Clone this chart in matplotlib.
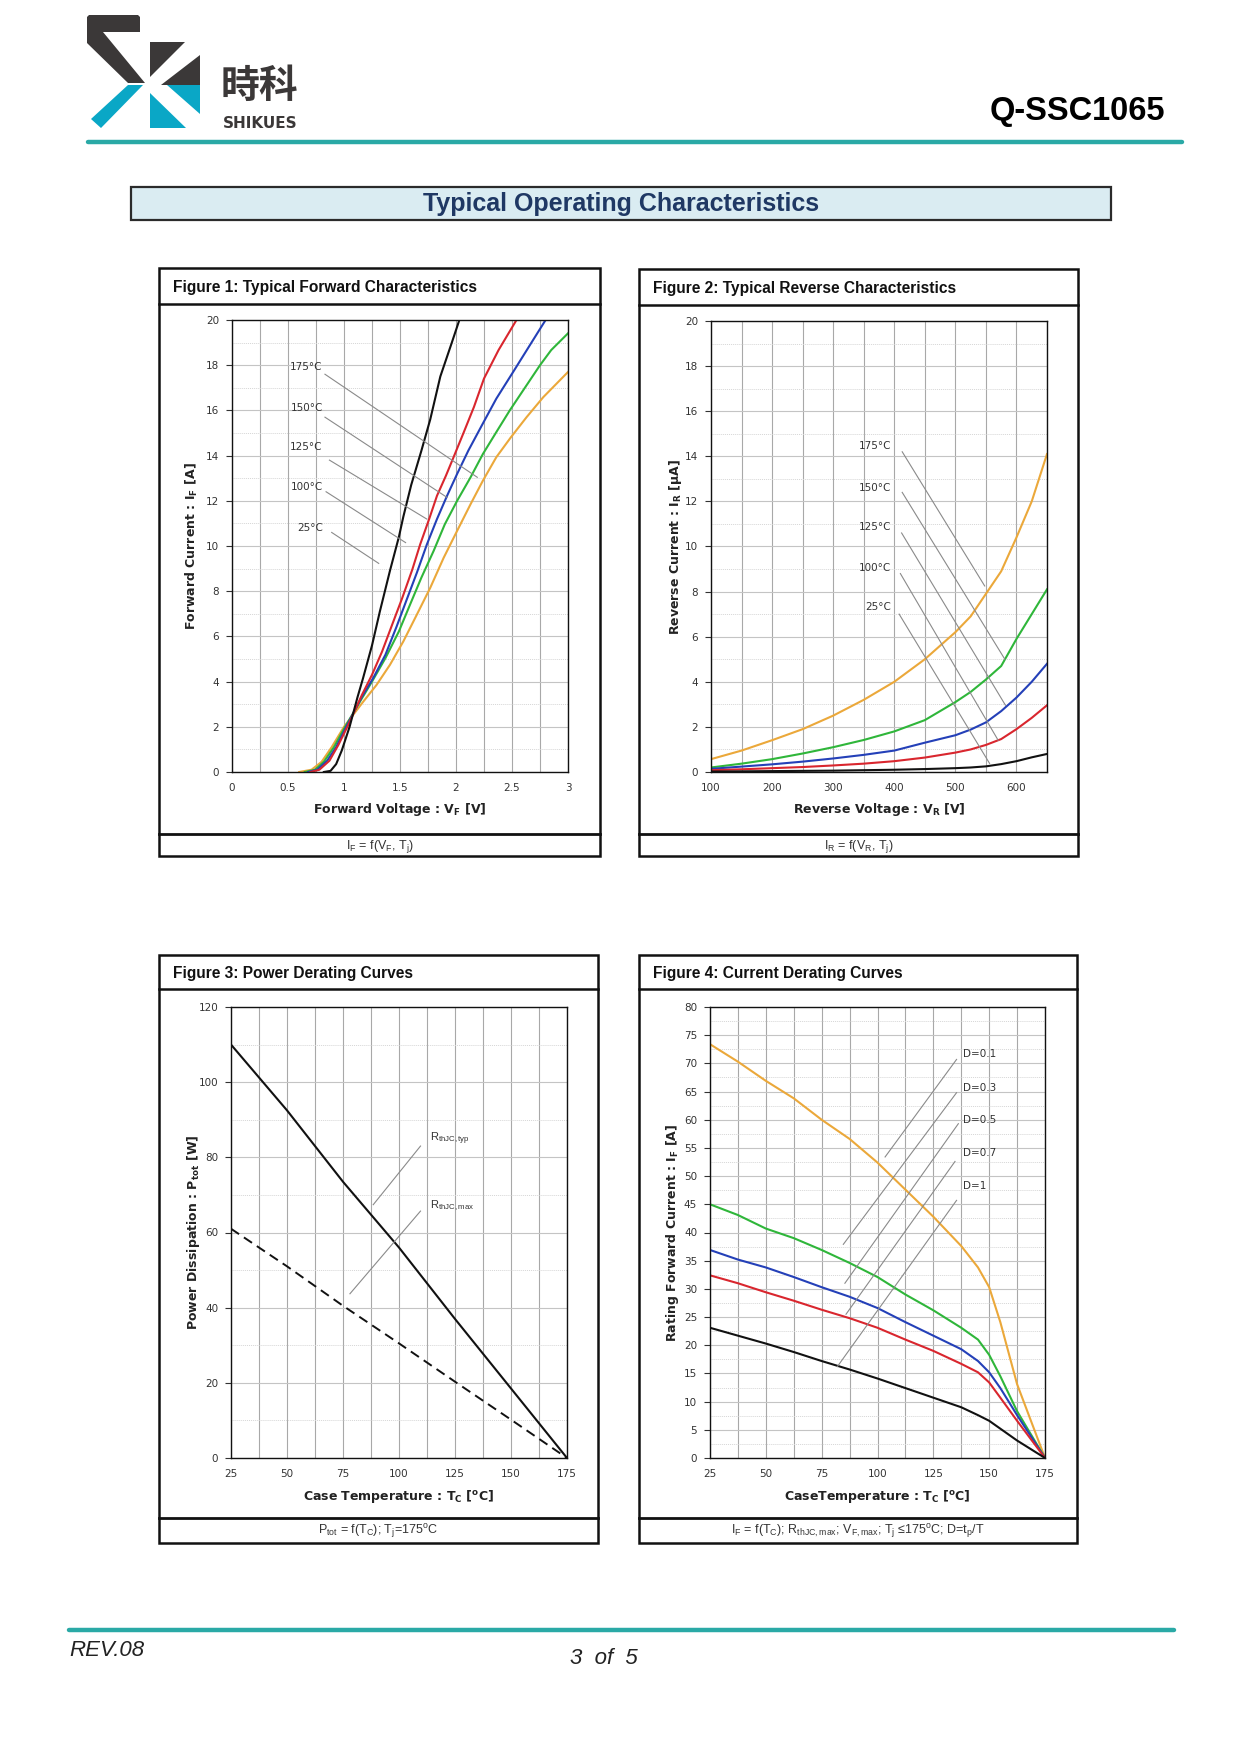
import matplotlib
matplotlib.use("Agg")
import matplotlib.pyplot as plt
from matplotlib.patches import Rectangle, Polygon
from matplotlib.ticker import MultipleLocator

plt.rcParams['mathtext.fontset'] = 'custom'
plt.rcParams['mathtext.rm'] = 'Liberation Sans'
plt.rcParams['mathtext.it'] = 'Liberation Sans:italic'
plt.rcParams['mathtext.bf'] = 'DejaVu Sans:bold'
plt.rcParams['mathtext.sf'] = 'DejaVu Sans'
plt.rcParams['font.family'] = ['DejaVu Sans']

# ---------------- data ----------------
# Figure 1: forward characteristics (VF [V] vs IF [A])
f1_labels = ["175°C", "150°C", "125°C", "100°C", "25°C"]
f1_vf_175 = [0.60, 0.71, 0.80, 0.89, 1.00, 1.17, 1.29, 1.41, 1.53, 1.65, 1.77, 1.89, 2.01, 2.13, 2.24, 2.36, 2.49, 2.63, 2.78, 3.00]
f1_if_175 = [0.0, 0.1, 0.45, 1.1, 2.0, 3.1, 3.85, 4.74, 5.78, 6.96, 8.15, 9.48, 10.67, 11.85, 12.89, 13.93, 14.81, 15.7, 16.59, 17.7]
f1_vf_150 = [0.65, 0.74, 0.82, 0.91, 1.01, 1.16, 1.25, 1.37, 1.49, 1.59, 1.69, 1.80, 1.90, 2.01, 2.13, 2.24, 2.36, 2.48, 2.60, 2.75, 2.85, 3.00]
f1_if_150 = [0.0, 0.1, 0.45, 1.1, 2.0, 3.26, 4.0, 5.04, 6.22, 7.41, 8.59, 9.78, 10.96, 12.0, 13.04, 14.07, 15.04, 16.0, 16.89, 18.0, 18.67, 19.41]
f1_vf_125 = [0.68, 0.76, 0.85, 0.93, 1.02, 1.16, 1.26, 1.37, 1.47, 1.56, 1.65, 1.74, 1.83, 1.92, 2.01, 2.11, 2.23, 2.36, 2.51, 2.66, 2.80]
f1_if_125 = [0.0, 0.1, 0.5, 1.1, 2.0, 3.33, 4.15, 5.19, 6.44, 7.63, 8.81, 10.07, 11.19, 12.22, 13.19, 14.22, 15.33, 16.52, 17.70, 18.89, 20.0]
f1_vf_100 = [0.70, 0.78, 0.87, 0.95, 1.03, 1.16, 1.25, 1.34, 1.43, 1.52, 1.61, 1.68, 1.76, 1.83, 1.91, 1.99, 2.07, 2.16, 2.25, 2.38, 2.54]
f1_if_100 = [0.0, 0.1, 0.5, 1.2, 2.0, 3.41, 4.30, 5.33, 6.52, 7.70, 8.96, 10.07, 11.19, 12.22, 13.11, 14.07, 15.04, 16.15, 17.41, 18.67, 20.0]
f1_vf_25 = [0.82, 0.88, 0.93, 0.98, 1.05, 1.12, 1.17, 1.25, 1.32, 1.41, 1.49, 1.53, 1.60, 1.69, 1.77, 1.86, 1.96, 2.03]
f1_if_25 = [0.0, 0.05, 0.35, 0.95, 2.0, 3.3, 4.15, 5.6, 7.1, 8.9, 10.4, 11.3, 12.7, 14.2, 15.6, 17.5, 18.96, 20.0]
f1_label_y = [17.9, 16.1, 14.4, 12.6, 10.8]
f1_lead_start = [(0.83, 17.6), (0.83, 15.7), (0.87, 13.8), (0.84, 12.4), (0.89, 10.6)]
f1_lead_end = [(2.19, 13.04), (1.92, 12.15), (1.74, 11.19), (1.55, 10.15), (1.31, 9.23)]
f1_xticks = [0, 0.5, 1, 1.5, 2, 2.5, 3]
f1_xticklabels = ["0", "0.5", "1", "1.5", "2", "2.5", "3"]

# Figure 2: reverse characteristics (VR [V] vs IR [uA])
f2_vr = [100, 150, 200, 250, 300, 350, 400, 450, 500, 525, 550, 575, 600, 625, 650]
f2_ir_175 = [0.57, 0.95, 1.41, 1.9, 2.5, 3.2, 4.0, 5.0, 6.2, 6.9, 7.9, 8.9, 10.4, 12.0, 14.1]
f2_ir_150 = [0.2, 0.37, 0.57, 0.82, 1.1, 1.42, 1.8, 2.3, 3.1, 3.55, 4.1, 4.7, 5.9, 7.0, 8.1]
f2_ir_125 = [0.14, 0.24, 0.34, 0.46, 0.6, 0.76, 0.95, 1.3, 1.63, 1.88, 2.2, 2.7, 3.3, 4.0, 4.8]
f2_ir_100 = [0.08, 0.12, 0.17, 0.22, 0.29, 0.37, 0.48, 0.64, 0.86, 1.0, 1.2, 1.46, 1.9, 2.4, 2.96]
f2_ir_25 = [0.02, 0.03, 0.04, 0.05, 0.06, 0.08, 0.1, 0.13, 0.17, 0.2, 0.25, 0.35, 0.48, 0.65, 0.8]
f2_labels = ["175°C", "150°C", "125°C", "100°C", "25°C"]
f2_label_y = [14.45, 12.6, 10.85, 9.05, 7.3]
f2_lead_start = [(413, 14.2), (413, 12.4), (412, 10.6), (410, 8.8), (408, 7.0)]
f2_lead_end = [(548, 8.25), (581, 5.0), (582, 2.96), (570, 1.41), (556, 0.38)]

# Figure 3: power derating (TC [°C] vs Ptot [W])
f3_tc = [25, 50, 75, 100, 125, 150, 175]
f3_p_typ = [110, 92.5, 73.5, 56, 37, 18.5, 0]
f3_p_max = [61, 51, 40.5, 30.5, 20.3, 10.2, 0]
f3_labels = [r"R$_\mathrm{thJC,typ}$", r"R$_\mathrm{thJC,max}$"]
f3_label_pos = [(113.7, 84.8), (113.7, 67.2)]
f3_lead_start = [(109.6, 83.0), (109.6, 65.7)]
f3_lead_end = [(88.5, 67.4), (78.1, 43.7)]

# Figure 4: current derating (TC [°C] vs IF [A])
f4_tc = [25, 37.5, 50, 62.5, 75, 87.5, 100, 112.5, 125, 137.5, 145, 150, 155, 162.5, 175]
f4_if_d01 = [73.4, 70.3, 66.9, 63.8, 60.0, 56.6, 52.4, 47.6, 42.8, 37.6, 33.8, 30.3, 24.1, 13.1, 0]
f4_if_d03 = [45.0, 43.1, 40.7, 39.0, 36.9, 34.6, 32.1, 29.0, 26.2, 23.1, 21.0, 18.3, 14.5, 8.3, 0]
f4_if_d05 = [36.9, 35.2, 33.8, 32.1, 30.3, 28.6, 26.6, 24.1, 21.7, 19.3, 17.2, 15.2, 12.4, 7.6, 0]
f4_if_d07 = [32.4, 31.0, 29.4, 27.9, 26.3, 24.8, 23.1, 21.0, 19.0, 16.7, 15.2, 13.4, 10.7, 6.6, 0]
f4_if_d1 = [23.1, 21.7, 20.3, 18.8, 17.2, 15.7, 14.1, 12.4, 10.7, 9.0, 7.6, 6.6, 5.2, 3.1, 0]
f4_labels = ["D=0.1", "D=0.3", "D=0.5", "D=0.7", "D=1"]
f4_label_y = [71.7, 65.7, 60.0, 54.1, 48.3]
f4_lead_start = [(135.4, 70.7), (135.4, 64.8), (136.2, 59.3), (134.7, 52.6), (135.4, 45.7)]
f4_lead_end = [(103.4, 53.4), (84.7, 37.9), (85.4, 31.0), (85.9, 25.5), (82.0, 16.2)]

# ---------------- style ----------------
C_OR = '#eba83a'
C_GR = '#2fb63a'
C_BL = '#2440b8'
C_RD = '#d9262e'
C_BK = '#111111'
TEAL = '#2aa9a6'
LEAD = '#8a8a8a'

W, H = 1241, 1755
fig = plt.figure(figsize=(W / 100, H / 100), dpi=100)
fig.patch.set_facecolor('white')

bg = fig.add_axes([0, 0, 1, 1])
bg.set_xlim(0, W)
bg.set_ylim(H, 0)
bg.axis('off')
bg.set_zorder(0)

# ---- header ----
dark = '#3b3838'
teal2 = '#0aa7c6'
bg.add_patch(Polygon([(89, 15), (138, 15), (140, 17), (140, 32), (103, 32), (145, 83), (128, 83), (87, 43), (87, 17)],
                     closed=True, fc=dark, ec='none'))
bg.add_patch(Polygon([(150, 42), (185, 42), (150, 77)], closed=True, fc=dark, ec='none'))
bg.add_patch(Polygon([(200, 55), (200, 85), (161, 85)], closed=True, fc=dark, ec='none'))
bg.add_patch(Polygon([(128, 85), (143, 85), (101, 128), (91, 119)], closed=True, fc=teal2, ec='none'))
bg.add_patch(Polygon([(150, 93), (150, 128), (186, 128)], closed=True, fc=teal2, ec='none'))
bg.add_patch(Polygon([(167, 85), (200, 85), (200, 114)], closed=True, fc=teal2, ec='none'))
bg.text(259, 86, "時科", family=['Noto Sans CJK SC', 'DejaVu Sans'], weight='bold', fontsize=28,
        color=dark, ha='center', va='center')
bg.text(260, 123, "SHIKUES", family='DejaVu Sans', weight='bold', fontsize=11, color=dark, ha='center', va='center')
bg.text(1165, 120, "Q-SSC1065", family='Liberation Sans', weight='bold', fontsize=23.5, color='black', ha='right', va='baseline')
bg.plot([88, 1182], [142, 142], color=TEAL, lw=3.2, solid_capstyle='round')

# ---- page title ----
bg.add_patch(Rectangle((131, 187), 980, 33, fc='#daecf2', ec='#2b2b2b', lw=1.6))
bg.text(621, 204, "Typical Operating Characteristics", family='Liberation Sans', weight='bold',
        fontsize=18, color='#1f3864', ha='center', va='center')

# ---- footer ----
bg.plot([69, 1174], [1630, 1630], color=TEAL, lw=3.2, solid_capstyle='round')
bg.text(69, 1650, "REV.08", family='Liberation Sans', style='italic', fontsize=16, color='#222222', ha='left', va='center')
bg.text(604, 1658, "3  of  5", family='Liberation Sans', style='italic', fontsize=16, color='#222222', ha='center', va='center')


def panel(l, t, r, b, s1, s2, title, caption):
    bg.add_patch(Rectangle((l, t), r - l, b - t, fill=False, ec='#111111', lw=1.8))
    bg.plot([l, r], [s1, s1], color='#111111', lw=1.8)
    bg.plot([l, r], [s2, s2], color='#111111', lw=2.0)
    bg.text(l + 14, (t + s1) / 2 + 1, title, family='Liberation Sans', weight='bold', fontsize=11.2,
            color='#111111', ha='left', va='center')
    bg.text((l + r) / 2, (s2 + b) / 2 + 1, caption, family='Liberation Sans', fontsize=9,
            color='#333333', ha='center', va='center')


panel(159, 268, 600, 856, 304, 834, "Figure 1: Typical Forward Characteristics",
      r"I$_\mathrm{F}$ = f(V$_\mathrm{F}$, T$_\mathrm{j}$)")
panel(639, 269, 1078, 856, 305, 834, "Figure 2: Typical Reverse Characteristics",
      r"I$_\mathrm{R}$ = f(V$_\mathrm{R}$, T$_\mathrm{j}$)")
panel(159, 955, 598, 1543, 989, 1518, "Figure 3: Power Derating Curves",
      r"P$_\mathrm{tot}$ = f(T$_\mathrm{C}$); T$_\mathrm{j}$=175$^\mathrm{o}$C")
panel(639, 955, 1077, 1543, 989, 1518, "Figure 4: Current Derating Curves",
      r"I$_\mathrm{F}$ = f(T$_\mathrm{C}$); R$_\mathrm{thJC,max}$; V$_\mathrm{F,max}$; T$_\mathrm{j}$ ≤175$^\mathrm{o}$C; D=t$_\mathrm{p}$/T")


def px_axes(l, t, r, b):
    ax = fig.add_axes([l / W, 1 - b / H, (r - l) / W, (b - t) / H])
    ax.set_zorder(1)
    ax.set_facecolor('white')
    for s in ax.spines.values():
        s.set_color('#111111')
        s.set_linewidth(1.0)
    ax.tick_params(axis='y', which='major', direction='out', length=4.3, width=0.8, pad=5,
                   labelsize=7.5, labelcolor='#333333', color='#333333')
    ax.tick_params(axis='x', which='major', length=0, pad=8, labelsize=7.5, labelcolor='#333333')
    ax.tick_params(which='minor', length=0)
    return ax


def grids(ax, vstep, hmin):
    ax.xaxis.set_minor_locator(MultipleLocator(vstep))
    ax.yaxis.set_minor_locator(MultipleLocator(hmin))
    ax.grid(True, which='both', axis='x', color='#a8a8a8', lw=0.8)
    ax.grid(True, which='major', axis='y', color='#c4c4c4', lw=0.8)
    ax.grid(True, which='minor', axis='y', color='#d6d6d6', lw=0.7, ls=(0, (1, 1)))
    ax.set_axisbelow(True)


def labels(ax, xl, yl, ylx, xly):
    ax.set_xlabel(xl, fontsize=9, weight='bold', color='#222222', va='center')
    ax.set_ylabel(yl, fontsize=9, weight='bold', color='#222222', va='center')
    ax.xaxis.set_label_coords(0.5, xly)
    ax.yaxis.set_label_coords(ylx, 0.5)


# ---- Figure 1 ----
ax1 = px_axes(232, 320, 568, 772)
ax1.set_xlim(0, 3)
ax1.set_ylim(0, 20)
ax1.set_xticks(f1_xticks)
ax1.set_xticklabels(f1_xticklabels)
ax1.set_yticks(range(0, 21, 2))
grids(ax1, 0.25, 1)
for vf, i_f, c in [(f1_vf_175, f1_if_175, C_OR), (f1_vf_150, f1_if_150, C_GR), (f1_vf_125, f1_if_125, C_BL),
                   (f1_vf_100, f1_if_100, C_RD), (f1_vf_25, f1_if_25, C_BK)]:
    ax1.plot(vf, i_f, color=c, lw=1.5)
for lab, ly, s, e in zip(f1_labels, f1_label_y, f1_lead_start, f1_lead_end):
    ax1.text(0.81, ly, lab, fontsize=7.5, color='#333333', ha='right', va='center')
    ax1.plot([s[0], e[0]], [s[1], e[1]], color=LEAD, lw=0.8)
labels(ax1, r"Forward Voltage : V$_\mathbf{F}$ [V]", r"Forward Current : I$_\mathbf{F}$ [A]", -0.119, -0.084)

# ---- Figure 2 ----
ax2 = px_axes(711, 321, 1047, 772)
ax2.set_xlim(100, 650)
ax2.set_ylim(0, 20)
ax2.set_xticks([100, 200, 300, 400, 500, 600])
ax2.set_yticks(range(0, 21, 2))
grids(ax2, 50, 1)
for ir, c in [(f2_ir_175, C_OR), (f2_ir_150, C_GR), (f2_ir_125, C_BL), (f2_ir_100, C_RD), (f2_ir_25, C_BK)]:
    ax2.plot(f2_vr, ir, color=c, lw=1.5)
for lab, ly, s, e in zip(f2_labels, f2_label_y, f2_lead_start, f2_lead_end):
    ax2.text(395, ly, lab, fontsize=7.5, color='#333333', ha='right', va='center')
    ax2.plot([s[0], e[0]], [s[1], e[1]], color=LEAD, lw=0.8)
labels(ax2, r"Reverse Voltage : V$_\mathbf{R}$ [V]", r"Reverse Current : I$_\mathbf{R}$ [μA]", -0.107, -0.084)

# ---- Figure 3 ----
ax3 = px_axes(231, 1007, 567, 1458)
ax3.set_xlim(25, 175)
ax3.set_ylim(0, 120)
ax3.set_xticks(range(25, 176, 25))
ax3.set_yticks(range(0, 121, 20))
grids(ax3, 12.5, 10)
ax3.plot(f3_tc, f3_p_typ, color=C_BK, lw=1.5)
ax3.plot(f3_tc, f3_p_max, color=C_BK, lw=1.4, dashes=(5, 3))
for lab, p, s, e in zip(f3_labels, f3_label_pos, f3_lead_start, f3_lead_end):
    ax3.text(p[0], p[1], lab, family='Liberation Sans', fontsize=8, color='#333333', ha='left', va='center')
    ax3.plot([s[0], e[0]], [s[1], e[1]], color=LEAD, lw=0.8)
labels(ax3, r"Case Temperature : T$_\mathbf{C}$ [$^\mathbf{o}$C]", r"Power Dissipation : P$_\mathbf{tot}$ [W]", -0.113, -0.086)

# ---- Figure 4 ----
ax4 = px_axes(710, 1007, 1045, 1458)
ax4.set_xlim(25, 175)
ax4.set_ylim(0, 80)
ax4.set_xticks(range(25, 176, 25))
ax4.set_yticks(range(0, 81, 5))
grids(ax4, 12.5, 2.5)
for y4, c in [(f4_if_d01, C_OR), (f4_if_d03, C_GR), (f4_if_d05, C_BL), (f4_if_d07, C_RD), (f4_if_d1, C_BK)]:
    ax4.plot(f4_tc, y4, color=c, lw=1.5)
for lab, ly, s, e in zip(f4_labels, f4_label_y, f4_lead_start, f4_lead_end):
    ax4.text(138.4, ly, lab, fontsize=7.5, color='#333333', ha='left', va='center')
    ax4.plot([s[0], e[0]], [s[1], e[1]], color=LEAD, lw=0.8)
labels(ax4, r"CaseTemperature : T$_\mathbf{C}$ [$^\mathbf{o}$C]", r"Rating Forward Current : I$_\mathbf{F}$ [A]", -0.113, -0.086)

fig.savefig("out.png", dpi=100, facecolor='white')
